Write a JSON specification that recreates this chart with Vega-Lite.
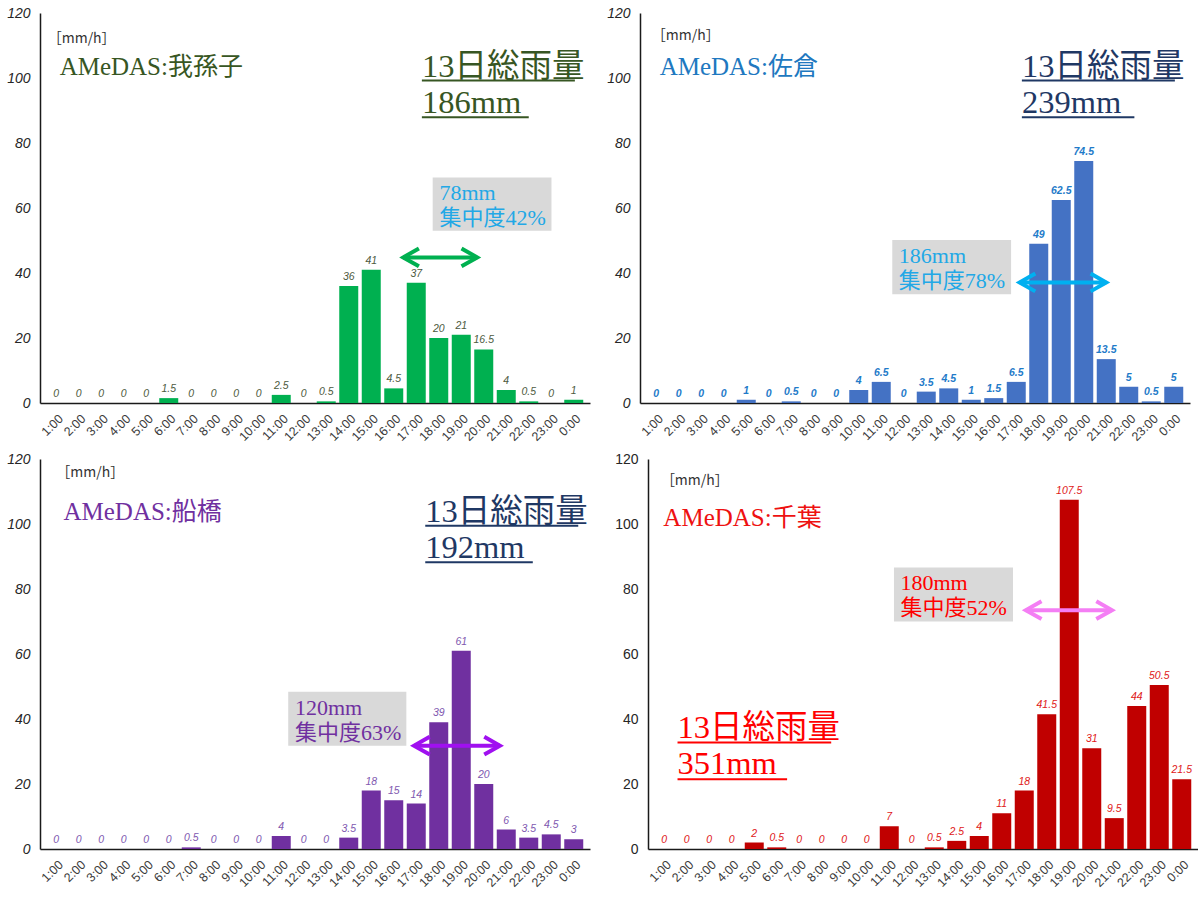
{
  "$schema": "https://vega.github.io/schema/vega-lite/v6.json",
  "background": "white",
  "padding": {"left": 6, "top": 6, "right": 0, "bottom": 0},
  "spacing": 9,
  "config": {
    "view": {"stroke": null},
    "font": "Liberation Sans",
    "axis": {"grid": false, "ticks": false, "domainColor": "#1a1a1a", "domainWidth": 1.5, "labelFont": "Liberation Sans"},
    "axisY": {"labelFontSize": 14, "labelFontStyle": "italic", "labelPadding": 10, "labelColor": "#262626"},
    "axisX": {"labelFontSize": 12.5, "labelAngle": -45, "labelAlign": "right", "labelBaseline": "top", "labelPadding": 9, "labelColor": "#3a3a3a", "labelOverlap": false, "labelFlush": false}
  },
  "vconcat": [
    {
      "spacing": 16,
      "hconcat": [
        {
          "width": 550, "height": 390,
          "encoding": {
            "x": {"field": "hour", "type": "quantitative", "scale": {"domain": [0.5, 24.5]}, "axis": {"title": null, "values": [1,2,3,4,5,6,7,8,9,10,11,12,13,14,15,16,17,18,19,20,21,22,23,24], "labelExpr": "datum.value == 24 ? '0:00' : datum.value + ':00'"}},
            "y": {"field": "mm", "type": "quantitative", "scale": {"domain": [0, 120]}, "axis": {"title": null, "values": [0,20,40,60,80,100,120]}}
          },
          "layer": [
            {
              "data": {"values": [
                {"hour": 1, "mm": 0}, {"hour": 2, "mm": 0}, {"hour": 3, "mm": 0}, {"hour": 4, "mm": 0},
                {"hour": 5, "mm": 0}, {"hour": 6, "mm": 1.5}, {"hour": 7, "mm": 0}, {"hour": 8, "mm": 0},
                {"hour": 9, "mm": 0}, {"hour": 10, "mm": 0}, {"hour": 11, "mm": 2.5}, {"hour": 12, "mm": 0},
                {"hour": 13, "mm": 0.5}, {"hour": 14, "mm": 36}, {"hour": 15, "mm": 41}, {"hour": 16, "mm": 4.5},
                {"hour": 17, "mm": 37}, {"hour": 18, "mm": 20}, {"hour": 19, "mm": 21}, {"hour": 20, "mm": 16.5},
                {"hour": 21, "mm": 4}, {"hour": 22, "mm": 0.5}, {"hour": 23, "mm": 0}, {"hour": 24, "mm": 1}
              ]},
              "layer": [
                {"mark": {"type": "bar", "orient": "vertical", "size": 19, "color": "#00B050"}},
                {"mark": {"type": "text", "baseline": "bottom", "dy": -4, "fontSize": 10.5, "fontStyle": "italic", "color": "#4d5a40"}, "encoding": {"text": {"field": "mm", "type": "quantitative"}}}
              ]
            },
            {
              "data": {"values": [{"hour": 17.73, "hour2": 23.01, "mm": 69.4, "mm2": 53.0}]},
              "mark": {"type": "rect", "color": "#d9d9d9"},
              "encoding": {"x2": {"field": "hour2"}, "y2": {"field": "mm2"}}
            },
            {
              "data": {"values": [{"hour": 18.03, "mm": 64.7, "note": "78mm"}, {"hour": 18.03, "mm": 57.0, "note": "集中度42%"}]},
              "mark": {"type": "text", "align": "left", "baseline": "middle", "font": "Liberation Serif, Noto Sans CJK JP", "fontSize": 22, "color": "#22A8E6"},
              "encoding": {"text": {"field": "note"}}
            },
            {
              "data": {"values": [{"hour": 16.42, "hour2": 19.71, "mm": 44.8}]},
              "layer": [
                {"mark": {"type": "rule", "color": "#00B050", "strokeWidth": 4}, "encoding": {"x2": {"field": "hour2"}}},
                {"mark": {"type": "point", "shape": "M 1 -0.57 L 0 0 L 1 0.57", "size": 986, "filled": false, "opacity": 1, "strokeWidth": 4, "strokeJoin": "miter", "color": "#00B050"}},
                {"mark": {"type": "point", "shape": "M -1 -0.57 L 0 0 L -1 0.57", "size": 986, "filled": false, "opacity": 1, "strokeWidth": 4, "strokeJoin": "miter", "color": "#00B050"}, "encoding": {"x": {"field": "hour2", "type": "quantitative"}}}
              ]
            },
            {
              "data": {"values": [{"hour": 0.62, "mm": 112, "note": "［mm/h］"}]},
              "mark": {"type": "text", "align": "left", "baseline": "middle", "font": "Noto Sans CJK JP", "fontSize": 14, "color": "#333333"},
              "encoding": {"text": {"field": "note"}}
            },
            {
              "data": {"values": [{"hour": 1.15, "mm": 103.3, "note": "AMeDAS:我孫子"}]},
              "mark": {"type": "text", "align": "left", "baseline": "middle", "font": "Liberation Serif, Noto Sans CJK JP", "fontSize": 25, "color": "#375623"},
              "encoding": {"text": {"field": "note"}}
            },
            {
              "data": {"values": [{"hour": 17.25, "mm": 103.5, "note": "13日総雨量"}, {"hour": 17.25, "mm": 92.2, "note": "186mm"}]},
              "mark": {"type": "text", "align": "left", "baseline": "middle", "font": "Liberation Serif, Noto Sans CJK JP", "fontSize": 32.5, "color": "#375623"},
              "encoding": {"text": {"field": "note"}}
            },
            {
              "data": {"values": [{"hour": 17.25, "hour2": 24.05, "mm": 99.2}, {"hour": 17.25, "hour2": 22.0, "mm": 87.9}]},
              "mark": {"type": "rule", "color": "#375623", "strokeWidth": 2},
              "encoding": {"x2": {"field": "hour2"}}
            }
          ]
        },
        {
          "width": 550, "height": 390,
          "encoding": {
            "x": {"field": "hour", "type": "quantitative", "scale": {"domain": [0.5, 24.5]}, "axis": {"title": null, "values": [1,2,3,4,5,6,7,8,9,10,11,12,13,14,15,16,17,18,19,20,21,22,23,24], "labelExpr": "datum.value == 24 ? '0:00' : datum.value + ':00'"}},
            "y": {"field": "mm", "type": "quantitative", "scale": {"domain": [0, 120]}, "axis": {"title": null, "values": [0,20,40,60,80,100,120]}}
          },
          "layer": [
            {
              "data": {"values": [
                {"hour": 1, "mm": 0}, {"hour": 2, "mm": 0}, {"hour": 3, "mm": 0}, {"hour": 4, "mm": 0},
                {"hour": 5, "mm": 1}, {"hour": 6, "mm": 0}, {"hour": 7, "mm": 0.5}, {"hour": 8, "mm": 0},
                {"hour": 9, "mm": 0}, {"hour": 10, "mm": 4}, {"hour": 11, "mm": 6.5}, {"hour": 12, "mm": 0},
                {"hour": 13, "mm": 3.5}, {"hour": 14, "mm": 4.5}, {"hour": 15, "mm": 1}, {"hour": 16, "mm": 1.5},
                {"hour": 17, "mm": 6.5}, {"hour": 18, "mm": 49}, {"hour": 19, "mm": 62.5}, {"hour": 20, "mm": 74.5},
                {"hour": 21, "mm": 13.5}, {"hour": 22, "mm": 5}, {"hour": 23, "mm": 0.5}, {"hour": 24, "mm": 5}
              ]},
              "layer": [
                {"mark": {"type": "bar", "orient": "vertical", "size": 19, "color": "#4472C4"}},
                {"mark": {"type": "text", "baseline": "bottom", "dy": -4, "fontSize": 10.5, "fontStyle": "italic", "fontWeight": "bold", "color": "#1F7BC9"}, "encoding": {"text": {"field": "mm", "type": "quantitative"}}}
              ]
            },
            {
              "data": {"values": [{"hour": 11.49, "hour2": 16.77, "mm": 50.15, "mm2": 33.5}]},
              "mark": {"type": "rect", "color": "#d9d9d9"},
              "encoding": {"x2": {"field": "hour2"}, "y2": {"field": "mm2"}}
            },
            {
              "data": {"values": [{"hour": 11.78, "mm": 45.2, "note": "186mm"}, {"hour": 11.78, "mm": 37.5, "note": "集中度78%"}]},
              "mark": {"type": "text", "align": "left", "baseline": "middle", "font": "Liberation Serif, Noto Sans CJK JP", "fontSize": 22, "color": "#22A8E6"},
              "encoding": {"text": {"field": "note"}}
            },
            {
              "data": {"values": [{"hour": 17.15, "hour2": 21.0, "mm": 37.1}]},
              "layer": [
                {"mark": {"type": "rule", "color": "#00B0F0", "strokeWidth": 4}, "encoding": {"x2": {"field": "hour2"}}},
                {"mark": {"type": "point", "shape": "M 1 -0.57 L 0 0 L 1 0.57", "size": 986, "filled": false, "opacity": 1, "strokeWidth": 4, "strokeJoin": "miter", "color": "#00B0F0"}},
                {"mark": {"type": "point", "shape": "M -1 -0.57 L 0 0 L -1 0.57", "size": 986, "filled": false, "opacity": 1, "strokeWidth": 4, "strokeJoin": "miter", "color": "#00B0F0"}, "encoding": {"x": {"field": "hour2", "type": "quantitative"}}}
              ]
            },
            {
              "data": {"values": [{"hour": 0.8, "mm": 113, "note": "［mm/h］"}]},
              "mark": {"type": "text", "align": "left", "baseline": "middle", "font": "Noto Sans CJK JP", "fontSize": 14, "color": "#333333"},
              "encoding": {"text": {"field": "note"}}
            },
            {
              "data": {"values": [{"hour": 1.15, "mm": 103.3, "note": "AMeDAS:佐倉"}]},
              "mark": {"type": "text", "align": "left", "baseline": "middle", "font": "Liberation Serif, Noto Sans CJK JP", "fontSize": 25, "color": "#2078C0"},
              "encoding": {"text": {"field": "note"}}
            },
            {
              "data": {"values": [{"hour": 17.25, "mm": 103.5, "note": "13日総雨量"}, {"hour": 17.25, "mm": 92.2, "note": "239mm"}]},
              "mark": {"type": "text", "align": "left", "baseline": "middle", "font": "Liberation Serif, Noto Sans CJK JP", "fontSize": 32.5, "color": "#1F3864"},
              "encoding": {"text": {"field": "note"}}
            },
            {
              "data": {"values": [{"hour": 17.25, "hour2": 24.05, "mm": 99.2}, {"hour": 17.25, "hour2": 22.25, "mm": 87.9}]},
              "mark": {"type": "rule", "color": "#1F3864", "strokeWidth": 2},
              "encoding": {"x2": {"field": "hour2"}}
            }
          ]
        }
      ]
    },
    {
      "spacing": 24,
      "hconcat": [
        {
          "width": 550, "height": 390,
          "encoding": {
            "x": {"field": "hour", "type": "quantitative", "scale": {"domain": [0.5, 24.5]}, "axis": {"title": null, "values": [1,2,3,4,5,6,7,8,9,10,11,12,13,14,15,16,17,18,19,20,21,22,23,24], "labelExpr": "datum.value == 24 ? '0:00' : datum.value + ':00'"}},
            "y": {"field": "mm", "type": "quantitative", "scale": {"domain": [0, 120]}, "axis": {"title": null, "values": [0,20,40,60,80,100,120]}}
          },
          "layer": [
            {
              "data": {"values": [
                {"hour": 1, "mm": 0}, {"hour": 2, "mm": 0}, {"hour": 3, "mm": 0}, {"hour": 4, "mm": 0},
                {"hour": 5, "mm": 0}, {"hour": 6, "mm": 0}, {"hour": 7, "mm": 0.5}, {"hour": 8, "mm": 0},
                {"hour": 9, "mm": 0}, {"hour": 10, "mm": 0}, {"hour": 11, "mm": 4}, {"hour": 12, "mm": 0},
                {"hour": 13, "mm": 0}, {"hour": 14, "mm": 3.5}, {"hour": 15, "mm": 18}, {"hour": 16, "mm": 15},
                {"hour": 17, "mm": 14}, {"hour": 18, "mm": 39}, {"hour": 19, "mm": 61}, {"hour": 20, "mm": 20},
                {"hour": 21, "mm": 6}, {"hour": 22, "mm": 3.5}, {"hour": 23, "mm": 4.5}, {"hour": 24, "mm": 3}
              ]},
              "layer": [
                {"mark": {"type": "bar", "orient": "vertical", "size": 19, "color": "#7030A0"}},
                {"mark": {"type": "text", "baseline": "bottom", "dy": -4, "fontSize": 10.5, "fontStyle": "italic", "color": "#8058B0"}, "encoding": {"text": {"field": "mm", "type": "quantitative"}}}
              ]
            },
            {
              "data": {"values": [{"hour": 11.31, "hour2": 16.56, "mm": 48.4, "mm2": 31.8}]},
              "mark": {"type": "rect", "color": "#d9d9d9"},
              "encoding": {"x2": {"field": "hour2"}, "y2": {"field": "mm2"}}
            },
            {
              "data": {"values": [{"hour": 11.61, "mm": 43.5, "note": "120mm"}, {"hour": 11.61, "mm": 35.8, "note": "集中度63%"}]},
              "mark": {"type": "text", "align": "left", "baseline": "middle", "font": "Liberation Serif, Noto Sans CJK JP", "fontSize": 22, "color": "#7030A0"},
              "encoding": {"text": {"field": "note"}}
            },
            {
              "data": {"values": [{"hour": 16.9, "hour2": 20.72, "mm": 31.8}]},
              "layer": [
                {"mark": {"type": "rule", "color": "#A010F0", "strokeWidth": 4}, "encoding": {"x2": {"field": "hour2"}}},
                {"mark": {"type": "point", "shape": "M 1 -0.57 L 0 0 L 1 0.57", "size": 986, "filled": false, "opacity": 1, "strokeWidth": 4, "strokeJoin": "miter", "color": "#A010F0"}},
                {"mark": {"type": "point", "shape": "M -1 -0.57 L 0 0 L -1 0.57", "size": 986, "filled": false, "opacity": 1, "strokeWidth": 4, "strokeJoin": "miter", "color": "#A010F0"}, "encoding": {"x": {"field": "hour2", "type": "quantitative"}}}
              ]
            },
            {
              "data": {"values": [{"hour": 1.0, "mm": 115.7, "note": "［mm/h］"}]},
              "mark": {"type": "text", "align": "left", "baseline": "middle", "font": "Noto Sans CJK JP", "fontSize": 14, "color": "#333333"},
              "encoding": {"text": {"field": "note"}}
            },
            {
              "data": {"values": [{"hour": 1.32, "mm": 103.6, "note": "AMeDAS:船橋"}]},
              "mark": {"type": "text", "align": "left", "baseline": "middle", "font": "Liberation Serif, Noto Sans CJK JP", "fontSize": 25, "color": "#7030A0"},
              "encoding": {"text": {"field": "note"}}
            },
            {
              "data": {"values": [{"hour": 17.4, "mm": 103.8, "note": "13日総雨量"}, {"hour": 17.4, "mm": 92.6, "note": "192mm"}]},
              "mark": {"type": "text", "align": "left", "baseline": "middle", "font": "Liberation Serif, Noto Sans CJK JP", "fontSize": 32.5, "color": "#1F3864"},
              "encoding": {"text": {"field": "note"}}
            },
            {
              "data": {"values": [{"hour": 17.4, "hour2": 24.2, "mm": 99.5}, {"hour": 17.4, "hour2": 22.18, "mm": 88.2}]},
              "mark": {"type": "rule", "color": "#1F3864", "strokeWidth": 2},
              "encoding": {"x2": {"field": "hour2"}}
            }
          ]
        },
        {
          "width": 550, "height": 390,
          "encoding": {
            "x": {"field": "hour", "type": "quantitative", "scale": {"domain": [0.5, 24.5]}, "axis": {"title": null, "values": [1,2,3,4,5,6,7,8,9,10,11,12,13,14,15,16,17,18,19,20,21,22,23,24], "labelExpr": "datum.value == 24 ? '0:00' : datum.value + ':00'"}},
            "y": {"field": "mm", "type": "quantitative", "scale": {"domain": [0, 120]}, "axis": {"title": null, "values": [0,20,40,60,80,100,120], "labelFontStyle": "normal"}}
          },
          "layer": [
            {
              "data": {"values": [
                {"hour": 1, "mm": 0}, {"hour": 2, "mm": 0}, {"hour": 3, "mm": 0}, {"hour": 4, "mm": 0},
                {"hour": 5, "mm": 2}, {"hour": 6, "mm": 0.5}, {"hour": 7, "mm": 0}, {"hour": 8, "mm": 0},
                {"hour": 9, "mm": 0}, {"hour": 10, "mm": 0}, {"hour": 11, "mm": 7}, {"hour": 12, "mm": 0},
                {"hour": 13, "mm": 0.5}, {"hour": 14, "mm": 2.5}, {"hour": 15, "mm": 4}, {"hour": 16, "mm": 11},
                {"hour": 17, "mm": 18}, {"hour": 18, "mm": 41.5}, {"hour": 19, "mm": 107.5}, {"hour": 20, "mm": 31},
                {"hour": 21, "mm": 9.5}, {"hour": 22, "mm": 44}, {"hour": 23, "mm": 50.5}, {"hour": 24, "mm": 21.5}
              ]},
              "layer": [
                {"mark": {"type": "bar", "orient": "vertical", "size": 19, "color": "#C00000"}},
                {"mark": {"type": "text", "baseline": "bottom", "dy": -4, "fontSize": 10.5, "fontStyle": "italic", "color": "#E01818"}, "encoding": {"text": {"field": "mm", "type": "quantitative"}}}
              ]
            },
            {
              "data": {"values": [{"hour": 11.21, "hour2": 16.5, "mm": 86.6, "mm2": 70.0}]},
              "mark": {"type": "rect", "color": "#d9d9d9"},
              "encoding": {"x2": {"field": "hour2"}, "y2": {"field": "mm2"}}
            },
            {
              "data": {"values": [{"hour": 11.5, "mm": 81.8, "note": "180mm"}, {"hour": 11.5, "mm": 74.1, "note": "集中度52%"}]},
              "mark": {"type": "text", "align": "left", "baseline": "middle", "font": "Liberation Serif, Noto Sans CJK JP", "fontSize": 22, "color": "#FF0000"},
              "encoding": {"text": {"field": "note"}}
            },
            {
              "data": {"values": [{"hour": 17.07, "hour2": 20.9, "mm": 73.5}]},
              "layer": [
                {"mark": {"type": "rule", "color": "#F47EF4", "strokeWidth": 4}, "encoding": {"x2": {"field": "hour2"}}},
                {"mark": {"type": "point", "shape": "M 1 -0.57 L 0 0 L 1 0.57", "size": 986, "filled": false, "opacity": 1, "strokeWidth": 4, "strokeJoin": "miter", "color": "#F47EF4"}},
                {"mark": {"type": "point", "shape": "M -1 -0.57 L 0 0 L -1 0.57", "size": 986, "filled": false, "opacity": 1, "strokeWidth": 4, "strokeJoin": "miter", "color": "#F47EF4"}, "encoding": {"x": {"field": "hour2", "type": "quantitative"}}}
              ]
            },
            {
              "data": {"values": [{"hour": 0.85, "mm": 113.3, "note": "［mm/h］"}]},
              "mark": {"type": "text", "align": "left", "baseline": "middle", "font": "Noto Sans CJK JP", "fontSize": 14, "color": "#333333"},
              "encoding": {"text": {"field": "note"}}
            },
            {
              "data": {"values": [{"hour": 0.96, "mm": 102, "note": "AMeDAS:千葉"}]},
              "mark": {"type": "text", "align": "left", "baseline": "middle", "font": "Liberation Serif, Noto Sans CJK JP", "fontSize": 25, "color": "#EE1111"},
              "encoding": {"text": {"field": "note"}}
            },
            {
              "data": {"values": [{"hour": 1.59, "mm": 37.2, "note": "13日総雨量"}, {"hour": 1.59, "mm": 26.2, "note": "351mm"}]},
              "mark": {"type": "text", "align": "left", "baseline": "middle", "font": "Liberation Serif, Noto Sans CJK JP", "fontSize": 32.5, "color": "#FF0000"},
              "encoding": {"text": {"field": "note"}}
            },
            {
              "data": {"values": [{"hour": 1.59, "hour2": 8.42, "mm": 32.8}, {"hour": 1.59, "hour2": 6.46, "mm": 21.5}]},
              "mark": {"type": "rule", "color": "#FF0000", "strokeWidth": 2},
              "encoding": {"x2": {"field": "hour2"}}
            }
          ]
        }
      ]
    }
  ]
}
